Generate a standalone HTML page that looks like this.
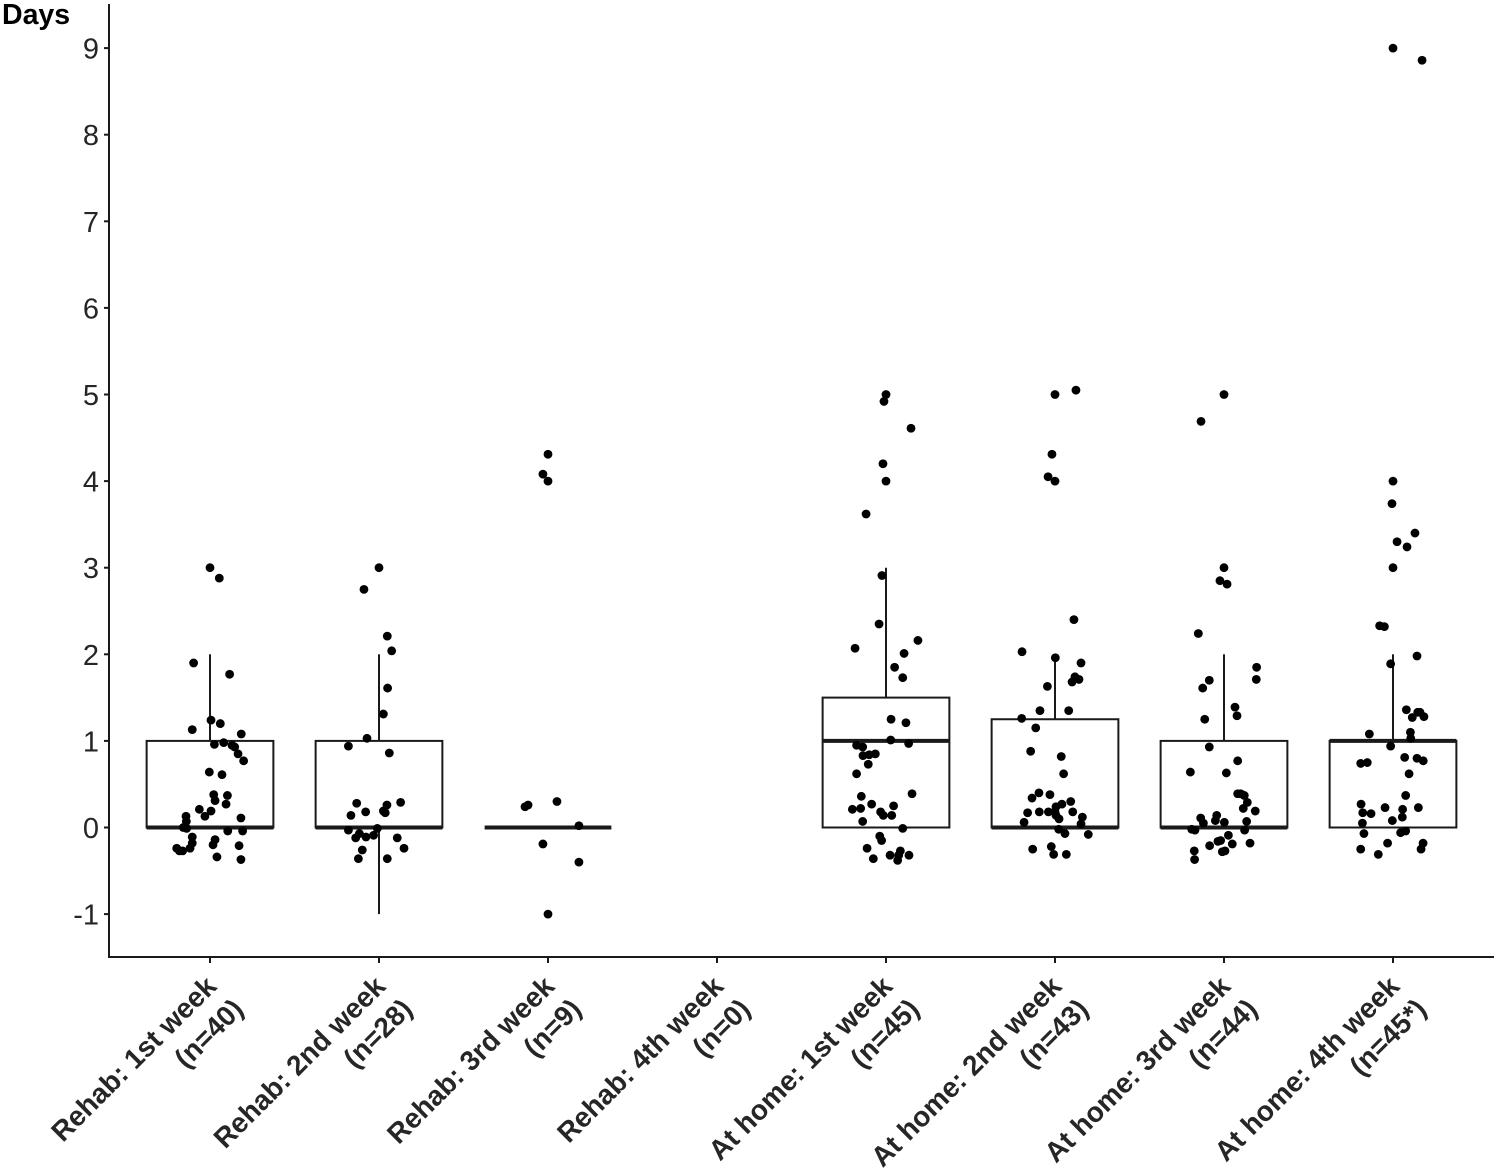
<!DOCTYPE html>
<html>
<head>
<meta charset="utf-8">
<title>Days by week</title>
<style>
html,body{margin:0;padding:0;background:#fff;}
svg{display:block;}
text{font-family:"Liberation Sans",sans-serif;}
</style>
</head>
<body>
<svg id="chart" xmlns="http://www.w3.org/2000/svg" width="1500" height="1172" viewBox="0 0 1500 1172"></svg>
<script>
const categories = ["Rehab: 1st week","Rehab: 2nd week","Rehab: 3rd week","Rehab: 4th week","At home: 1st week","At home: 2nd week","At home: 3rd week","At home: 4th week"];
const sampleLabels = ["(n=40)","(n=28)","(n=9)","(n=0)","(n=45)","(n=43)","(n=44)","(n=45*)"];
const yTicks = [-1,0,1,2,3,4,5,6,7,8,9];

const q1Values = [0,0,0,null,0,0,0,0];
const medianValues = [0,0,0,null,1,0,0,1];
const q3Values = [1,1,0,null,1.5,1.25,1,1];
const whiskerLow = [0,-1,0,null,0,0,0,0];
const whiskerHigh = [2,2,0,null,3,1.96,2,2];

const rehab1Values = [3,2.88,1.9,1.77,1.24,1.2,1.13,1.08,.96,.98,.95,.93,.85,.77,.64,.61,.38,.37,.31,.27,.21,.19,.13,.13,.11,.07,0,-.01,-.04,-.04,-.11,-.14,-.18,-.2,-.21,-.24,-.24,-.27,-.27,-.34,-.37];
const rehab1Jitter = [0,.055,-.097,.116,.006,.061,-.105,.185,.026,.081,.13,.146,.166,.199,-.004,.071,.022,.103,.03,.095,-.063,.006,-.03,-.142,.183,-.14,-.158,-.138,.105,.193,-.105,.03,-.105,.018,.172,-.118,-.197,-.181,-.162,.041,.183];

const rehab2Values = [3,2.75,2.21,2.04,1.61,1.31,1.03,.94,.86,.28,.29,.26,.19,.18,.17,.14,-.03,-.01,-.07,-.12,-.11,-.09,-.12,-.24,-.26,-.36,-.36];
const rehab2Jitter = [0,-.089,.049,.075,.051,.026,-.071,-.181,.061,-.132,.128,.047,.026,-.079,.037,-.166,-.181,-.01,-.116,-.138,-.077,-.032,.108,.148,-.099,-.122,.049];

const rehab3Values = [4.31,4.08,4,.24,.26,.3,.02,-.19,-.4,-1];
const rehab3Jitter = [0,-.03,0,-.136,-.118,.053,.183,-.03,.183,0];

const rehab4Values = [];
const rehab4Jitter = [];

const home1Values = [5,4.92,4.61,4.2,4,3.62,2.91,2.35,2.07,2.16,2.01,1.85,1.73,1.25,1.21,1.01,.97,.95,.93,.83,.84,.85,.73,.62,.39,.36,.27,.25,.21,.22,.18,.14,.14,.07,-.01,-.1,-.15,-.24,-.27,-.36,-.32,-.32,-.32,-.38];
const home1Jitter = [0,-.012,.148,-.018,0,-.118,-.024,-.041,-.183,.189,.107,.051,.099,.03,.118,.028,.134,-.174,-.138,-.136,-.099,-.063,-.105,-.174,.154,-.146,-.085,.045,-.199,-.15,-.032,-.016,.034,-.138,.099,-.037,-.026,-.112,.085,-.075,.024,.136,.075,.069];

const home2Values = [5,5.05,4.31,4.05,4,2.4,2.03,1.96,1.9,1.74,1.71,1.68,1.63,1.35,1.35,1.26,1.15,.88,.82,.62,.4,.38,.34,.3,.27,.24,.18,.17,.18,.18,.18,.14,.1,.12,.06,.04,-.02,-.07,-.08,-.25,-.22,-.31,-.31];
const home2Jitter = [0,.124,-.018,-.041,0,.112,-.195,.002,.154,.118,.142,.101,-.045,-.089,.081,-.197,-.114,-.144,.037,.051,-.095,-.03,-.136,.093,.041,.006,.105,-.162,-.093,-.039,0,.006,.024,.162,-.183,.154,.022,.059,.197,-.132,-.022,-.008,.067];

const home3Values = [5,4.69,3,2.85,2.81,2.24,1.85,1.71,1.7,1.61,1.39,1.29,1.25,.93,.77,.64,.63,.39,.39,.37,.29,.22,.19,.14,.11,.08,.06,.05,.07,-.02,-.03,-.03,-.09,-.15,-.16,-.19,-.21,-.18,-.27,-.28,-.27,-.37];
const home3Jitter = [0,-.136,0,-.024,.018,-.152,.193,.191,-.087,-.126,.065,.077,-.114,-.087,.081,-.199,.014,.081,.099,.12,.138,.114,.185,-.043,-.138,-.051,.002,-.122,.134,-.191,-.172,.122,.026,-.02,-.036,.049,-.085,.154,.006,-.01,-.176,-.174];

const home4Values = [9,8.86,4,3.74,3.4,3.3,3.24,3,2.33,2.32,1.98,1.89,1.36,1.33,1.33,1.27,1.28,1.08,1.1,1.03,.94,.81,.8,.77,.75,.74,.62,.37,.27,.23,.23,.21,.17,.16,.12,.08,.05,-.04,-.06,-.07,-.18,-.25,-.18,-.25,-.31];
const home4Jitter = [0,.172,0,-.006,.13,.024,.083,0,-.079,-.051,.142,-.014,.079,.146,.16,.114,.183,-.14,.103,.105,-.014,.069,.142,.179,-.152,-.191,.095,.075,-.189,.15,-.047,.057,-.179,-.13,.055,-.004,-.181,.075,.045,-.172,.178,.166,-.032,-.191,-.087];

const groupValues = [rehab1Values,rehab2Values,rehab3Values,rehab4Values,home1Values,home2Values,home3Values,home4Values];
const groupJitter = [rehab1Jitter,rehab2Jitter,rehab3Jitter,rehab4Jitter,home1Jitter,home2Jitter,home3Jitter,home4Jitter];

const svg = document.getElementById('chart');
const NS = 'http://www.w3.org/2000/svg';
const boxHalfWidth = 0.375;
function xScale(c){ return 210 + c * 169; }
function yScale(v){ return 827.5 - v * 86.6; }
function make(tag, attrs, parent, name){
  const el = document.createElementNS(NS, tag);
  for (const k in attrs) el.setAttribute(k, attrs[k]);
  
  
  (parent || svg).appendChild(el);
  return el;
}
const INK = '#1a1a1a';
const LABEL = '#262626';

const boxLayer = make('g', {}, svg, 'box-plots');
categories.forEach(function(cat, i){
  if (medianValues[i] === null) return;
  const cx = xScale(i), x0 = xScale(i - boxHalfWidth), x1 = xScale(i + boxHalfWidth);
  const g = make('g', {}, boxLayer, 'box-group-' + (i + 1));
  if (whiskerHigh[i] > q3Values[i]) make('line', {x1:cx, x2:cx, y1:yScale(q3Values[i]), y2:yScale(whiskerHigh[i]), stroke:INK, 'stroke-width':2}, g, 'whisker-upper');
  if (whiskerLow[i] < q1Values[i]) make('line', {x1:cx, x2:cx, y1:yScale(q1Values[i]), y2:yScale(whiskerLow[i]), stroke:INK, 'stroke-width':2}, g, 'whisker-lower');
  make('rect', {x:x0, y:yScale(q3Values[i]), width:x1 - x0, height:yScale(q1Values[i]) - yScale(q3Values[i]), fill:'none', stroke:INK, 'stroke-width':2}, g, 'box');
  make('line', {x1:x0, x2:x1, y1:yScale(medianValues[i]), y2:yScale(medianValues[i]), stroke:INK, 'stroke-width':4}, g, 'median-line');
});

const pointLayer = make('g', {}, svg, 'jitter-points');
groupValues.forEach(function(values, i){
  values.forEach(function(v, j){
    make('circle', {cx:xScale(i + groupJitter[i][j]), cy:yScale(v), r:4.4, fill:'#000'}, pointLayer, 'data-point');
  });
});

const axes = make('g', {}, svg, 'axes');
make('line', {x1:109, x2:109, y1:4, y2:958, stroke:INK, 'stroke-width':2}, axes, 'y-axis-line');
make('line', {x1:108, x2:1494, y1:957, y2:957, stroke:INK, 'stroke-width':2}, axes, 'x-axis-line');

yTicks.forEach(function(t){
  make('line', {x1:104, x2:109, y1:yScale(t), y2:yScale(t), stroke:INK, 'stroke-width':2}, axes, 'y-tick-mark');
  const lab = make('text', {x:99, y:yScale(t) + 10.5, 'text-anchor':'end', 'font-size':29, fill:LABEL}, axes, 'y-tick-label');
  lab.textContent = String(t);
});

categories.forEach(function(cat, i){
  const x = xScale(i);
  make('line', {x1:x, x2:x, y1:957, y2:963, stroke:INK, 'stroke-width':2}, axes, 'x-tick-mark');
  const g = make('g', {transform:'translate(' + (x + 8) + ' 988) rotate(-45)'}, axes, 'x-tick-label');
  const a = make('text', {x:0, y:0, 'text-anchor':'end', 'font-size':28, 'font-weight':'bold', fill:LABEL}, g, 'x-tick-label-name');
  a.textContent = cat;
  const b = make('text', {x:3, y:35, 'text-anchor':'end', 'font-size':28, 'font-weight':'bold', fill:LABEL}, g, 'x-tick-label-count');
  b.textContent = sampleLabels[i];
});

const title = make('text', {x:2, y:24, 'font-size':28.5, 'font-weight':'bold', fill:'#000'}, svg, 'y-axis-title');
title.textContent = 'Days';
</script>
</body>
</html>
